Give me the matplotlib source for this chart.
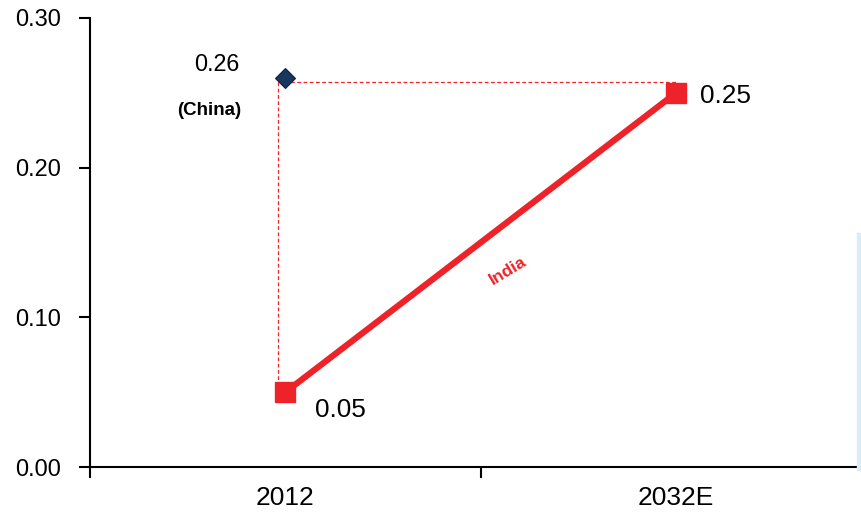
import matplotlib.pyplot as plt
from matplotlib.patches import Rectangle

plt.rcParams['font.family'] = ['Liberation Sans', 'DejaVu Sans']

categories = ["2012", "2032E"]
india = [0.05, 0.25]
china_2012 = 0.26
guide_level = 0.257
yticks = [0.00, 0.10, 0.20, 0.30]

red = "#ee2229"
navy = "#17375e"

fig = plt.figure(figsize=(8.62, 5.12), dpi=100)
ax = fig.add_axes([90 / 862, 45 / 512, 781.5 / 862, 449 / 512])

x = list(range(len(categories)))

# dashed guides from the China level
ax.plot([x[0] - 0.02, x[0] - 0.02], [india[0], guide_level], color=red,
        linestyle=(0, (3, 2)), linewidth=0.9, zorder=1)
ax.plot([x[0] - 0.02, x[1]], [guide_level, guide_level], color=red,
        linestyle=(0, (3, 2)), linewidth=0.9, zorder=1)

ax.plot(x, india, color=red, linewidth=4.5, marker="s", markersize=14,
        markeredgecolor=red, zorder=3)
ax.plot([x[0]], [china_2012], linestyle="none", marker="D", markersize=10,
        color=navy, markeredgecolor="#0d2340", markeredgewidth=0.8, zorder=4)

ax.annotate(f"{india[0]:.2f}", (x[0], india[0]), xytext=(55, -18),
            textcoords="offset pixels", ha="center", va="center", fontsize=18.8)
ax.annotate(f"{india[1]:.2f}", (x[1], india[1]), xytext=(49, -3),
            textcoords="offset pixels", ha="center", va="center", fontsize=18.8)
ax.annotate(f"{china_2012:.2f}", (x[0], china_2012), xytext=(-69, 13),
            textcoords="offset pixels", ha="center", va="center", fontsize=16.8)
ax.annotate("(China)", (x[0], china_2012), xytext=(-76, -33),
            textcoords="offset pixels", ha="center", va="center", fontsize=13.5,
            fontweight="bold")
ax.text(0.57, 0.131, "India", color=red, fontsize=12.5, fontweight="bold",
        rotation=31, ha="center", va="center")

ax.set_xlim(-0.5, 1.5)
ax.set_ylim(0, 0.30)
ax.set_yticks(yticks)
ax.set_yticklabels([f"{v:.2f}" for v in yticks])
ax.set_xticks(x)
ax.set_xticklabels(categories)
ax.set_xticks([-0.5, 0.5, 1.5], minor=True)

ax.tick_params(axis="y", direction="out", length=8, width=1.5, pad=13, labelsize=17)
ax.tick_params(axis="x", which="major", length=0, pad=14, labelsize=19)
ax.tick_params(axis="x", which="minor", direction="out", length=8, width=1.5)

for side in ["top", "right"]:
    ax.spines[side].set_visible(False)
for side in ["left", "bottom"]:
    ax.spines[side].set_linewidth(1.5)

fig.patches.append(Rectangle((857 / 862, 42 / 512), 5 / 862, 237 / 512,
                             transform=fig.transFigure, color="#d8eef6", zorder=0))

fig.savefig("out.png", dpi=100)
